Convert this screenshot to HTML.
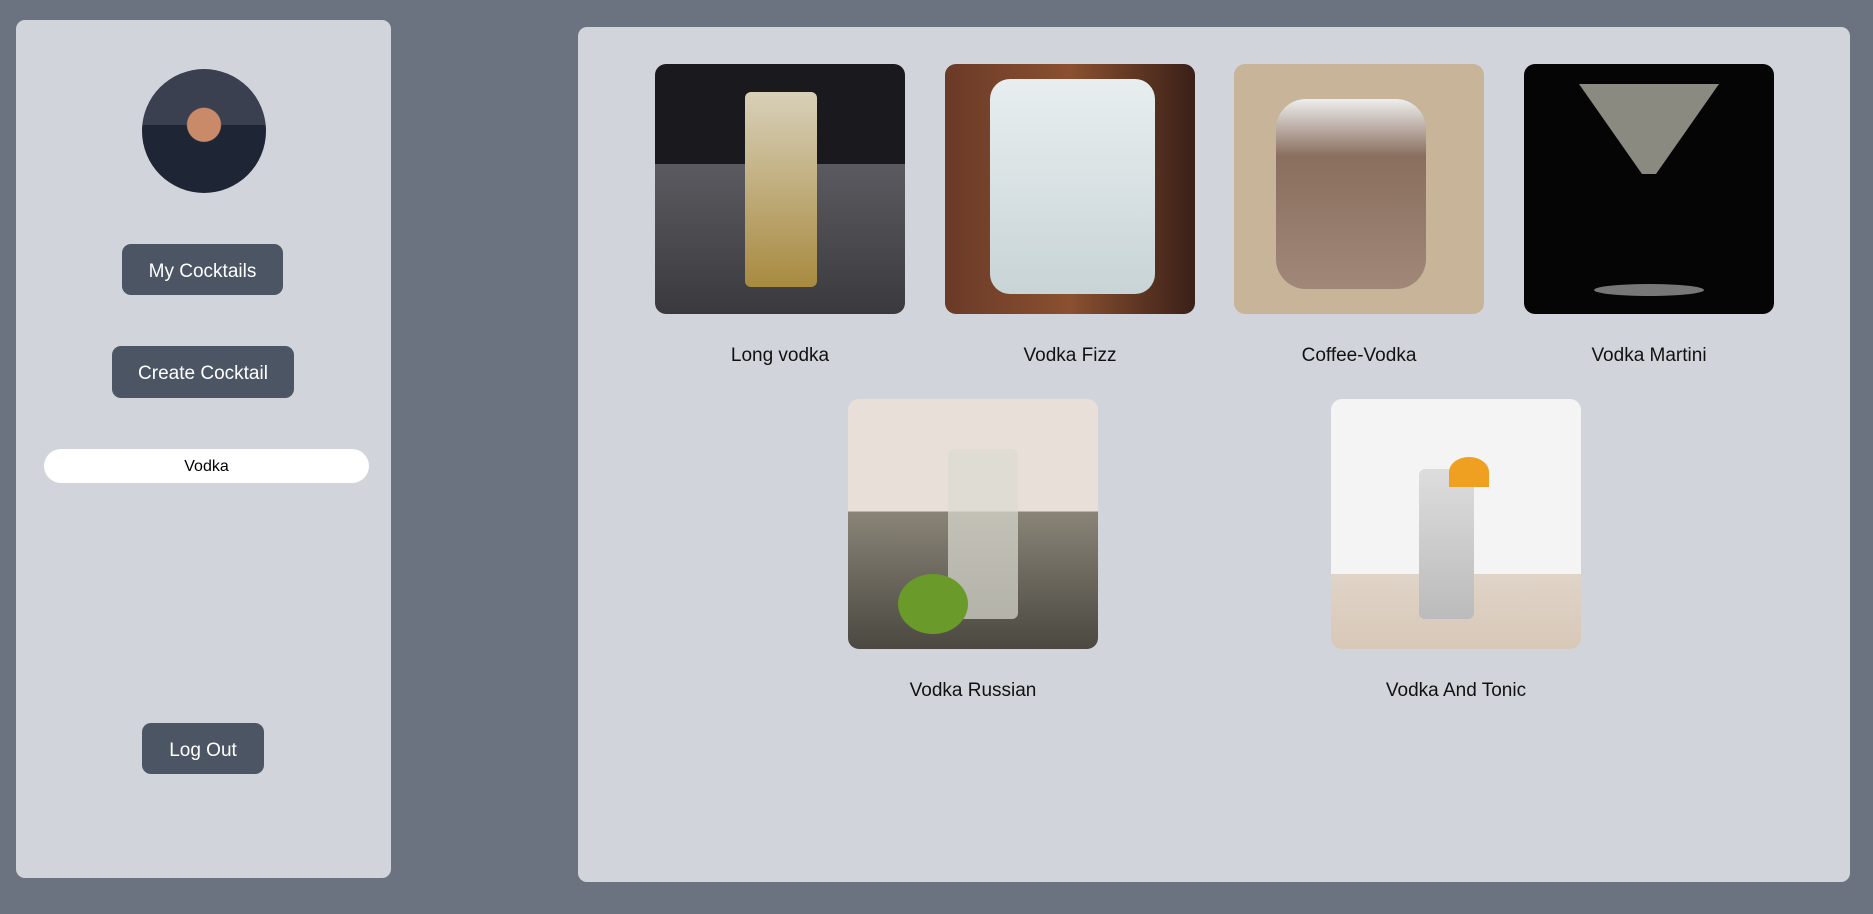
<!DOCTYPE html>
<html><head><meta charset="utf-8"><style>
*{box-sizing:border-box;margin:0;padding:0}
body{width:1873px;height:914px;background:#6b7280;font-family:"Liberation Sans",sans-serif;position:relative;overflow:hidden}
.side{position:absolute;left:16px;top:20px;width:375px;height:858px;background:#d1d5db;border-radius:9px}
.btn{position:absolute;background:#4b5563;color:#fff;border-radius:9px;font-size:19px;display:flex;align-items:center;justify-content:center;padding-top:4px}
.main{position:absolute;left:578px;top:27px;width:1272px;height:855px;background:#d1d5db;border-radius:9px}
.img{position:absolute;width:250px;height:250px;border-radius:11px;overflow:hidden}
.lbl{position:absolute;width:250px;text-align:center;font-size:19px;color:#111}
.glass{position:absolute;border-radius:6px}
</style></head><body>
<div class="side"></div>
<div style="position:absolute;left:142px;top:69px;width:124px;height:124px;border-radius:50%;background:radial-gradient(circle at 50% 45%,#c98a6a 0 18%,transparent 19%),linear-gradient(#3a4050 0 45%,#1e2535 45%);"></div>
<div class="btn" style="left:122px;top:244px;width:161px;height:51px">My Cocktails</div>
<div class="btn" style="left:112px;top:346px;width:182px;height:52px">Create Cocktail</div>
<div style="position:absolute;left:44px;top:449px;width:325px;height:34px;background:#fff;border-radius:17px;font-size:16px;display:flex;align-items:center;justify-content:center;color:#000;padding-top:2px">Vodka</div>
<div class="btn" style="left:142px;top:723px;width:122px;height:51px">Log Out</div>
<div class="main"></div>

<div class="img" style="left:655px;top:64px;background:linear-gradient(#1a1a1e 0 40%,#5a5a60 40%,#3a3a3e)"><div class="glass" style="left:90px;top:28px;width:72px;height:195px;background:linear-gradient(#d8d0b8,#a88a40)"></div></div>
<div class="lbl" style="left:655px;top:345px">Long vodka</div>

<div class="img" style="left:945px;top:64px;background:linear-gradient(90deg,#6a3a28,#8a5030 50%,#3a2018)"><div class="glass" style="left:45px;top:15px;width:165px;height:215px;background:linear-gradient(#e8eef0,#c8d4d6);border-radius:20px"></div></div>
<div class="lbl" style="left:945px;top:345px">Vodka Fizz</div>

<div class="img" style="left:1234px;top:64px;background:#c8b498"><div class="glass" style="left:42px;top:35px;width:150px;height:190px;background:linear-gradient(#eee,#8a6e5e 30%,#a08878);border-radius:30px"></div></div>
<div class="lbl" style="left:1234px;top:345px">Coffee-Vodka</div>

<div class="img" style="left:1524px;top:64px;background:#050505"><div style="position:absolute;left:55px;top:20px;width:140px;height:90px;background:#8a8a80;clip-path:polygon(0 0,100% 0,55% 100%,45% 100%)"></div><div style="position:absolute;left:70px;top:220px;width:110px;height:12px;background:#777;border-radius:50%"></div></div>
<div class="lbl" style="left:1524px;top:345px">Vodka Martini</div>

<div class="img" style="left:848px;top:399px;background:linear-gradient(#e8e0d8 0 45%,#8a8478 45%,#4a4840)"><div class="glass" style="left:100px;top:50px;width:70px;height:170px;background:rgba(220,220,210,.7)"></div><div style="position:absolute;left:50px;top:175px;width:70px;height:60px;background:#6a9a2a;border-radius:50%"></div></div>
<div class="lbl" style="left:848px;top:680px">Vodka Russian</div>

<div class="img" style="left:1331px;top:399px;background:linear-gradient(#f4f4f4 0 70%,#e0d4c8 70%,#d8c8b8)"><div class="glass" style="left:88px;top:70px;width:55px;height:150px;background:linear-gradient(#ddd,#bbb)"></div><div style="position:absolute;left:118px;top:58px;width:40px;height:30px;background:#f0a020;border-radius:50% 50% 0 0"></div></div>
<div class="lbl" style="left:1331px;top:680px">Vodka And Tonic</div>
</body></html>
